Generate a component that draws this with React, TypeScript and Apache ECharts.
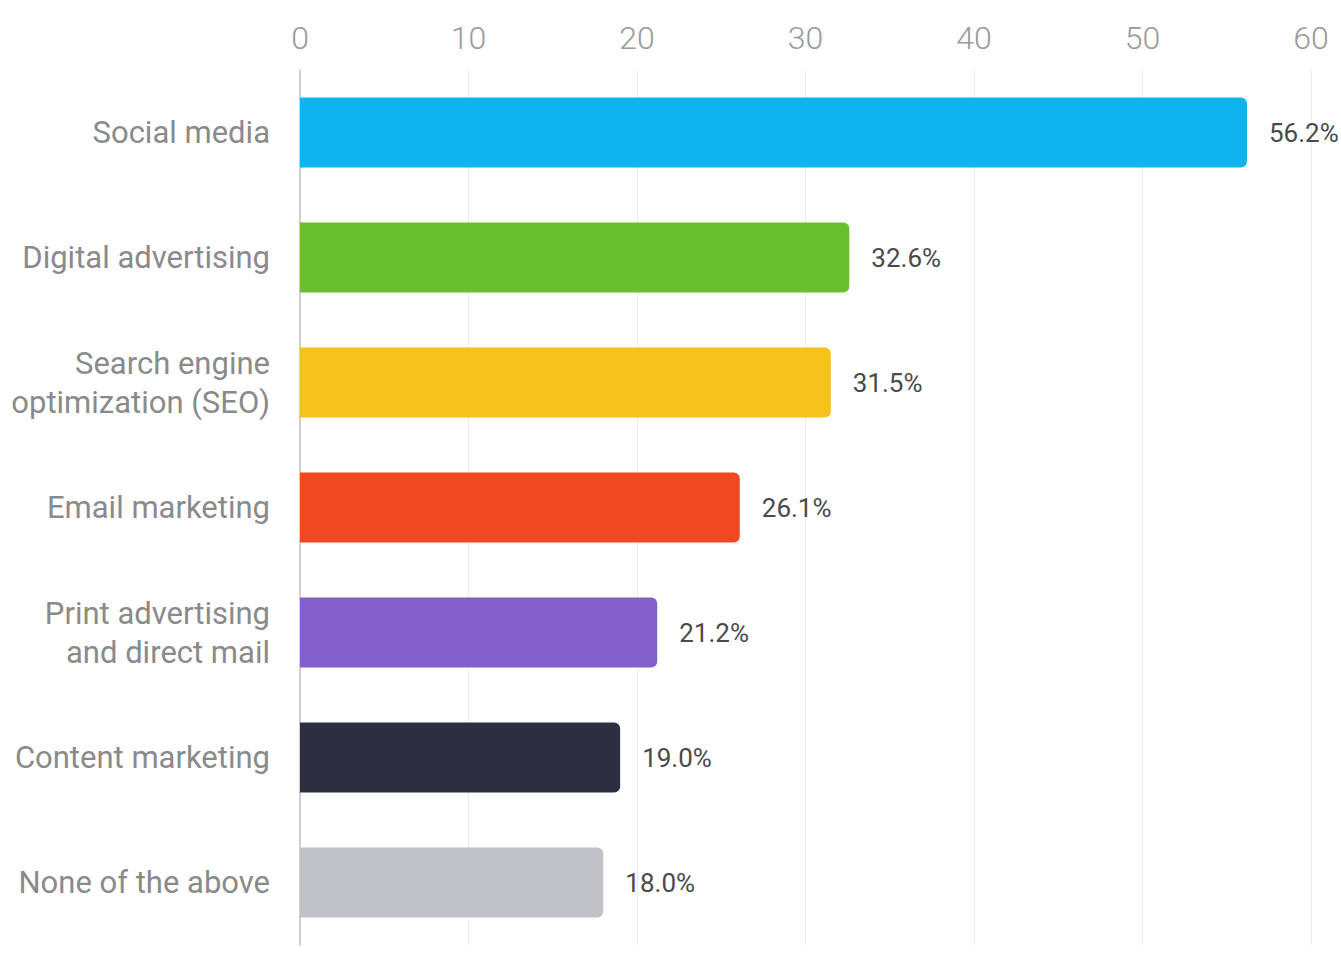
import React, { useEffect, useRef } from "react";
import * as echarts from "echarts";

const categories = [
  "Social media",
  "Digital advertising",
  "Search engine\noptimization (SEO)",
  "Email marketing",
  "Print advertising\nand direct mail",
  "Content marketing",
  "None of the above",
];
const values = [56.2, 32.6, 31.5, 26.1, 21.2, 19.0, 18.0];
const barColors = ["#0fb4ee", "#6abf2e", "#f6c11c", "#ef4823", "#835fcb", "#2c2f3f", "#c1c2c6"];
const xTicks = { min: 0, max: 60, interval: 10 };

export default function App() {
  const ref = useRef<HTMLDivElement>(null);
  useEffect(() => {
    document.body.style.margin = "0";
    const chart = echarts.init(ref.current!, null, { renderer: "svg" });
    chart.setOption({
      animation: false,
      backgroundColor: "#ffffff",
      grid: { left: 300, right: 30, top: 70, bottom: 14, containLabel: false },
      xAxis: {
        type: "value",
        position: "top",
        min: xTicks.min,
        max: xTicks.max,
        interval: xTicks.interval,
        axisLine: { show: false },
        axisTick: { show: false },
        axisLabel: { color: "#9a9a9a", fontSize: 32, margin: 16, fontFamily: "Roboto", fontWeight: 300 },
        splitLine: { show: true, lineStyle: { color: "#ececec", width: 1 } },
      },
      yAxis: {
        type: "category",
        inverse: true,
        data: categories,
        axisLine: { show: true, lineStyle: { color: "#cfcfcf", width: 2 } },
        axisTick: { show: false },
        axisLabel: {
          color: "#8a8a8a",
          fontSize: 31,
          lineHeight: 39,
          margin: 30,
          align: "right",
          fontFamily: "Roboto",
        },
      },
      series: [
        {
          type: "bar",
          data: values.map((v, i) => ({ value: v, itemStyle: { color: barColors[i] } })),
          barWidth: 70,
          itemStyle: { borderRadius: [0, 6, 6, 0] },
          label: {
            show: true,
            position: "right",
            distance: 22,
            color: "#4a4a4a",
            fontSize: 26,
            fontFamily: "Roboto",
            formatter: (p: any) => p.value.toFixed(1) + "%",
          },
        },
      ],
    });
    return () => chart.dispose();
  }, []);
  return <div ref={ref} style={{ width: 1341, height: 959 }} />;
}
